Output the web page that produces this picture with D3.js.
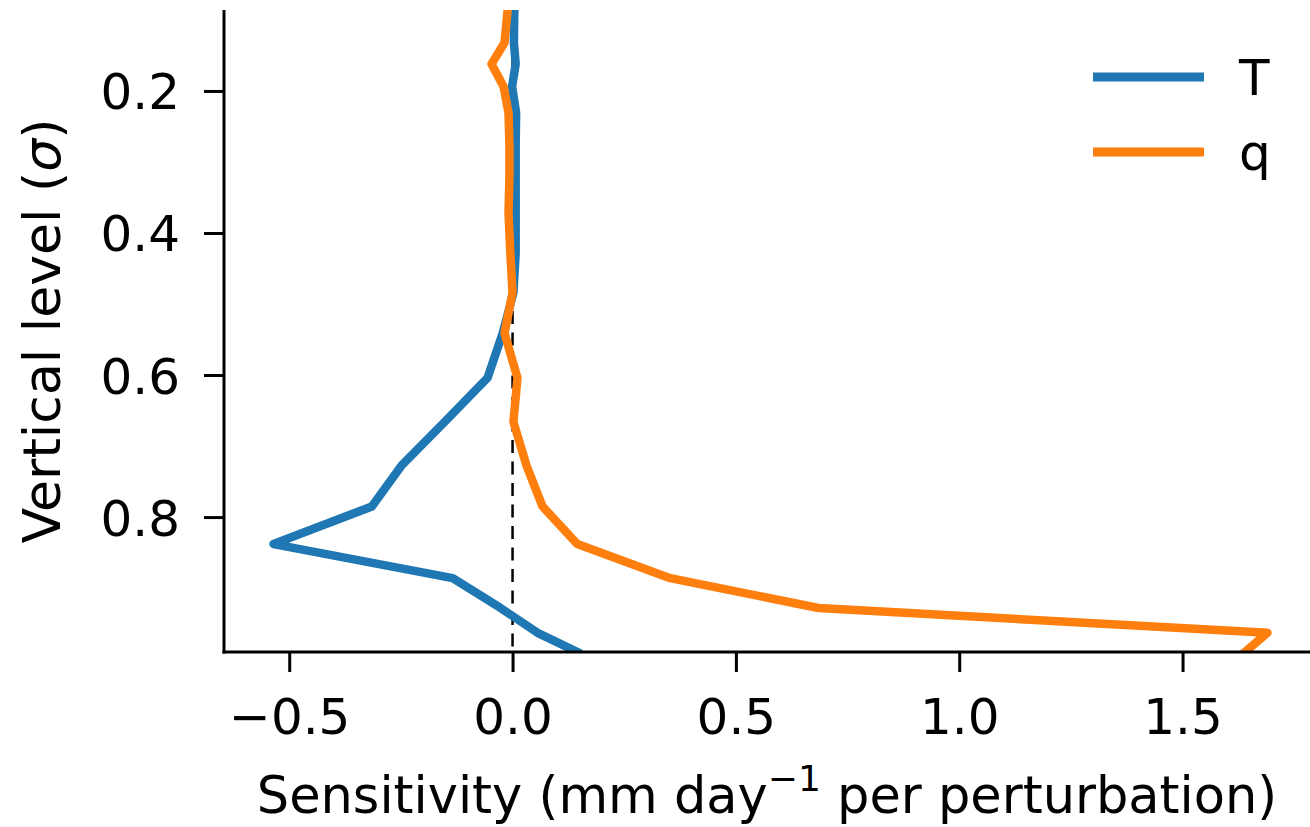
<!DOCTYPE html>
<html>
<head>
<meta charset="utf-8">
<script src="https://cdn.jsdelivr.net/npm/d3@7"></script>
<style>
  body { margin: 0; background: #fff; }
  svg { display: block; font-family: "DejaVu Sans", sans-serif; }
</style>
</head>
<body>
<svg width="1310" height="827"></svg>
<script>
// sigma levels (top to bottom) and sensitivities
const sigma = [0.086, 0.132, 0.162, 0.194, 0.231, 0.276, 0.321, 0.372, 0.428, 0.484,
  0.541, 0.604, 0.666, 0.727, 0.785, 0.838, 0.886, 0.928, 0.963, 0.990];
const sensT = [0.004, 0.003, 0.007, -0.001, 0.008, 0.007, 0.007, 0.007, 0.007, 0.002,
  -0.022, -0.056, -0.152, -0.248, -0.315, -0.535, -0.134, -0.027, 0.056, 0.145];
const sensQ = [-0.011, -0.018, -0.047, -0.020, -0.009, -0.007, -0.007, -0.009, -0.005, 0.0,
  -0.018, 0.011, 0.002, 0.031, 0.067, 0.145, 0.353, 0.685, 1.69, 1.64];
const xTicks = [-0.5, 0.0, 0.5, 1.0, 1.5];
const yTicks = [0.2, 0.4, 0.6, 0.8];
const seriesNames = ["T", "q"];
const seriesColors = ["#1f77b4", "#ff7f0e"];

const svg = d3.select("svg"),
  width = +svg.attr("width"),
  height = +svg.attr("height");

const axLeft = 224, axTop = 10, axBottom = 652, axRight = 1317;

const x = d3.scaleLinear().domain([-0.646, 1.801]).range([axLeft, axRight]);
const y = d3.scaleLinear().domain(d3.extent(sigma)).range([axTop, axBottom]);

svg.append("defs").append("clipPath").attr("id", "ax")
  .append("rect")
  .attr("x", axLeft).attr("y", axTop)
  .attr("width", axRight - axLeft).attr("height", axBottom - axTop);

// zero line
svg.append("line")
  .attr("clip-path", "url(#ax)")
  .attr("x1", x(0)).attr("x2", x(0))
  .attr("y1", axTop).attr("y2", axBottom)
  .attr("stroke", "#000")
  .attr("stroke-width", 2.5)
  .attr("stroke-dasharray", "13,8.5");

const series = [sensT, sensQ].map((vals, i) => ({
  name: seriesNames[i],
  color: seriesColors[i],
  points: vals.map((v, j) => [v, sigma[j]])
}));

const line = d3.line()
  .x(d => x(d[0]))
  .y(d => y(d[1]));

svg.append("g")
  .attr("clip-path", "url(#ax)")
  .selectAll("path")
  .data(series)
  .join("path")
  .attr("d", d => line(d.points))
  .attr("fill", "none")
  .attr("stroke", d => d.color)
  .attr("stroke-width", 8.5)
  .attr("stroke-linejoin", "round")
  .attr("stroke-linecap", "square");

// axes
const fmt = d3.format(".1f");

const xAxis = svg.append("g")
  .attr("transform", `translate(0,${axBottom})`)
  .call(d3.axisBottom(x).tickValues(xTicks).tickFormat(fmt).tickSize(20).tickPadding(26));

const yAxis = svg.append("g")
  .attr("transform", `translate(${axLeft},0)`)
  .call(d3.axisLeft(y).tickValues(yTicks).tickFormat(fmt).tickSize(20).tickPadding(24));

[xAxis, yAxis].forEach(g => {
  g.select(".domain").remove();
  g.selectAll(".tick line").attr("stroke", "#000").attr("stroke-width", 3);
  g.selectAll(".tick text")
    .attr("fill", "#000")
    .style("font-family", "DejaVu Sans")
    .style("font-size", "50px");
});
yAxis.selectAll(".tick text").attr("dy", "0.36em");
xAxis.selectAll(".tick text").attr("dy", "0.72em");

// spines
svg.append("line")
  .attr("x1", axLeft).attr("x2", axLeft)
  .attr("y1", axTop).attr("y2", axBottom + 1.5)
  .attr("stroke", "#000").attr("stroke-width", 3);
svg.append("line")
  .attr("x1", axLeft - 1.5).attr("x2", width)
  .attr("y1", axBottom).attr("y2", axBottom)
  .attr("stroke", "#000").attr("stroke-width", 3);

// axis labels
const xl = svg.append("text")
  .attr("x", (axLeft + width) / 2)
  .attr("y", 813)
  .attr("text-anchor", "middle")
  .style("font-size", "51px");
xl.append("tspan").text("Sensitivity (mm day");
xl.append("tspan").attr("dy", -22).style("font-size", "36px").text("\u22121");
xl.append("tspan").attr("dy", 22).text(" per perturbation)");

const yl = svg.append("text")
  .attr("transform", `translate(60,${(axTop + axBottom) / 2}) rotate(-90)`)
  .attr("text-anchor", "middle")
  .style("font-size", "52px");
yl.append("tspan").text("Vertical level (");
yl.append("tspan").style("font-style", "italic").text("\u03c3");
yl.append("tspan").text(")");

// legend
const legend = svg.append("g")
  .selectAll("g")
  .data(series)
  .join("g")
  .attr("transform", (d, i) => `translate(1093,${77 + i * 75})`);

legend.append("line")
  .attr("x1", 0).attr("x2", 111)
  .attr("stroke", d => d.color)
  .attr("stroke-width", 9);

legend.append("text")
  .attr("x", 146)
  .attr("dy", "0.36em")
  .style("font-size", "50px")
  .text(d => d.name);
</script>
</body>
</html>
